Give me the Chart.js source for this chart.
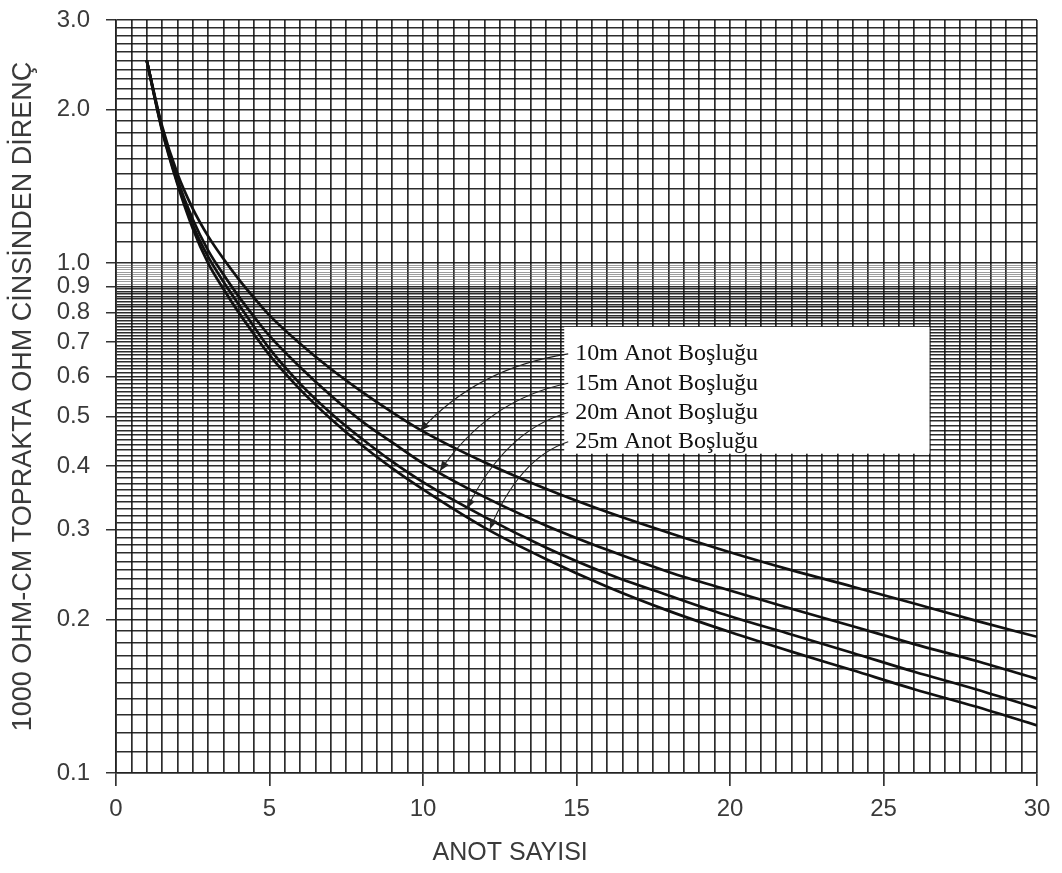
<!DOCTYPE html>
<html>
<head>
<meta charset="utf-8">
<script src="https://cdn.jsdelivr.net/npm/chart.js@4.4.1/dist/chart.umd.min.js"></script>
<style>
  html, body { margin: 0; padding: 0; background: #fff; }
  #chart { display: block; }
</style>
</head>
<body>
<canvas id="chart" width="1062" height="873"></canvas>
<script>
let canvas1 = document.getElementById("chart");
let mychart = canvas1.getContext("2d");

// values
var anodeCount = [1, 1.5, 2, 2.5, 3, 3.5, 4, 4.5, 5, 6, 7, 8, 9, 10, 12, 14, 16, 18, 20, 22, 24, 26, 28, 30];
var spacing10 = [2.5, 1.86, 1.5, 1.28, 1.13, 1.02, 0.93, 0.855, 0.79, 0.695, 0.62, 0.56, 0.51, 0.468, 0.407, 0.361, 0.325, 0.296, 0.271, 0.25, 0.232, 0.215, 0.199, 0.185];
var spacing15 = [2.5, 1.84, 1.46, 1.22, 1.06, 0.95, 0.86, 0.785, 0.72, 0.625, 0.55, 0.49, 0.445, 0.405, 0.348, 0.306, 0.274, 0.248, 0.228, 0.21, 0.194, 0.179, 0.166, 0.153];
var spacing20 = [2.5, 1.83, 1.44, 1.19, 1.03, 0.92, 0.83, 0.75, 0.68, 0.58, 0.508, 0.453, 0.408, 0.372, 0.318, 0.277, 0.246, 0.223, 0.203, 0.187, 0.172, 0.158, 0.146, 0.134];
var spacing25 = [2.5, 1.82, 1.43, 1.17, 1.0, 0.89, 0.8, 0.725, 0.66, 0.565, 0.495, 0.44, 0.396, 0.36, 0.303, 0.263, 0.232, 0.208, 0.189, 0.173, 0.159, 0.146, 0.135, 0.124];
var seriesNames = ["10m Anot Boşluğu", "15m Anot Boşluğu", "20m Anot Boşluğu", "25m Anot Boşluğu"];
// where each label arrow lands on its curve: [anode count, resistance]
var arrowTips = [[9.9, 0.468], [10.55, 0.391], [11.43, 0.33], [12.18, 0.301]];

var xLabels = [0, 5, 10, 15, 20, 25, 30];
var yLabels = [0.1, 0.2, 0.3, 0.4, 0.5, 0.6, 0.7, 0.8, 0.9, 1.0, 2.0, 3.0];
var xTitle = "ANOT SAYISI";
var yTitle = "1000 OHM-CM TOPRAKTA OHM CİNSİNDEN DİRENÇ";

var textColor = "#3a3a3a";
var gridColor = "rgba(15,15,15,0.88)";
var sans = "'Liberation Sans', Arial, sans-serif";

function toPoints(ys) {
  return anodeCount.map(function(x, i) { return { x: x, y: ys[i] }; });
}
function isXLabel(v) {
  return xLabels.some(function(l) { return Math.abs(l - v) < 1e-9; });
}
function isYLabel(v) {
  return yLabels.some(function(l) { return Math.abs(l - v) < 1e-9; });
}
// graph paper lines: every 0.5 anode, every 0.01 below 1.0, every 0.1 above
function xGrid() {
  var t = [];
  for (var i = 0; i <= 60; i++) t.push({ value: i / 2 });
  return t;
}
function yGrid() {
  var t = [];
  for (var i = 10; i <= 100; i++) t.push({ value: i / 100 });
  for (var j = 11; j <= 30; j++) t.push({ value: j / 10 });
  return t;
}
// the packed lines just under 1.0 read as a grey band
function inBand(v) {
  return v > 0.905 && v < 0.995;
}

var notes = {
  id: "notes",
  afterDatasetsDraw: function(chart) {
    var c = chart.ctx;
    var xs = chart.scales.x;
    var ys = chart.scales.y;
    var left = xs.getPixelForValue(14.6);
    var right = xs.getPixelForValue(26.5);
    var top = ys.getPixelForValue(0.75);
    var bottom = ys.getPixelForValue(0.423);
    c.save();
    c.fillStyle = "#fff";
    c.fillRect(left, top, right - left, bottom - top);

    c.font = "24px 'Liberation Serif', 'Times New Roman', serif";
    c.textAlign = "left";
    c.textBaseline = "middle";
    for (var i = 0; i < seriesNames.length; i++) {
      var rowY = top + 27 + i * 29.3;
      c.fillStyle = "#111";
      c.fillText(seriesNames[i], left + 11, rowY);

      // curved arrow from the label to its curve
      var x0 = left + 4, y0 = rowY;
      var x2 = xs.getPixelForValue(arrowTips[i][0]);
      var y2 = ys.getPixelForValue(arrowTips[i][1]);
      var cx = x2 + 0.376 * (x0 - x2);
      var cy = y0 + 0.185 * (y2 - y0);
      c.strokeStyle = "#222";
      c.lineWidth = 1.1;
      c.beginPath();
      c.moveTo(x0, y0);
      c.quadraticCurveTo(cx, cy, x2, y2);
      c.stroke();
      var ang = Math.atan2(y2 - cy, x2 - cx);
      c.beginPath();
      c.moveTo(x2, y2);
      c.lineTo(x2 - 10 * Math.cos(ang) + 4 * Math.sin(ang), y2 - 10 * Math.sin(ang) - 4 * Math.cos(ang));
      c.lineTo(x2 - 10 * Math.cos(ang) - 4 * Math.sin(ang), y2 - 10 * Math.sin(ang) + 4 * Math.cos(ang));
      c.closePath();
      c.fillStyle = "#222";
      c.fill();
    }

    // x axis title sits left of the plot centre in the reference
    c.font = "25px " + sans;
    c.fillStyle = textColor;
    c.textAlign = "center";
    c.fillText(xTitle, chart.chartArea.left + 0.428 * (chart.chartArea.right - chart.chartArea.left), 853);
    c.restore();
  }
};

let lineChart = new Chart(mychart, {
  type: "line",
  data: {
    datasets: [
      { label: seriesNames[0], data: toPoints(spacing10) },
      { label: seriesNames[1], data: toPoints(spacing15) },
      { label: seriesNames[2], data: toPoints(spacing20) },
      { label: seriesNames[3], data: toPoints(spacing25) }
    ]
  },
  options: {
    responsive: false,
    animation: false,
    devicePixelRatio: 1,
    layout: { padding: { top: 20, right: 25, left: 0, bottom: 0 } },
    elements: {
      line: { borderColor: "#111", borderWidth: 2.7, fill: false, cubicInterpolationMode: "monotone" },
      point: { radius: 0 }
    },
    plugins: {
      legend: { display: false },
      tooltip: { enabled: false }
    },
    scales: {
      x: {
        type: "linear",
        min: 0,
        max: 30,
        afterBuildTicks: function(s) { s.ticks = xGrid(); },
        afterFit: function(s) { s.height = 100; s.paddingLeft = 0; s.paddingRight = 0; },
        border: { color: "#222", width: 1.6 },
        grid: {
          color: gridColor,
          lineWidth: 1.7,
          tickLength: 13,
          tickColor: function(c) { return isXLabel(c.tick.value) ? "#333" : "rgba(0,0,0,0)"; }
        },
        ticks: {
          autoSkip: false,
          maxRotation: 0,
          padding: 9,
          color: textColor,
          font: { family: sans, size: 24 },
          callback: function(v) { return isXLabel(v) ? String(v) : ""; }
        }
      },
      y: {
        type: "logarithmic",
        min: 0.1,
        max: 3.0,
        afterBuildTicks: function(s) { s.ticks = yGrid(); },
        afterFit: function(s) { s.width = 116; s.paddingTop = 0; s.paddingBottom = 0; },
        border: { color: "#222", width: 1.6 },
        grid: {
          color: function(c) { return inBand(c.tick.value) ? "rgba(90,90,90,0.6)" : gridColor; },
          lineWidth: function(c) { return inBand(c.tick.value) ? 1 : 1.5; },
          tickLength: 10,
          tickColor: function(c) { return isYLabel(c.tick.value) ? "#333" : "rgba(0,0,0,0)"; }
        },
        ticks: {
          autoSkip: false,
          padding: 16,
          color: textColor,
          font: { family: sans, size: 24 },
          callback: function(v) { return isYLabel(v) ? Number(v).toFixed(1) : ""; }
        },
        title: {
          display: true,
          text: yTitle,
          color: textColor,
          font: { family: sans, size: 27 },
          padding: { top: 7, bottom: 0 }
        }
      }
    }
  },
  plugins: [notes]
});
</script>
</body>
</html>
